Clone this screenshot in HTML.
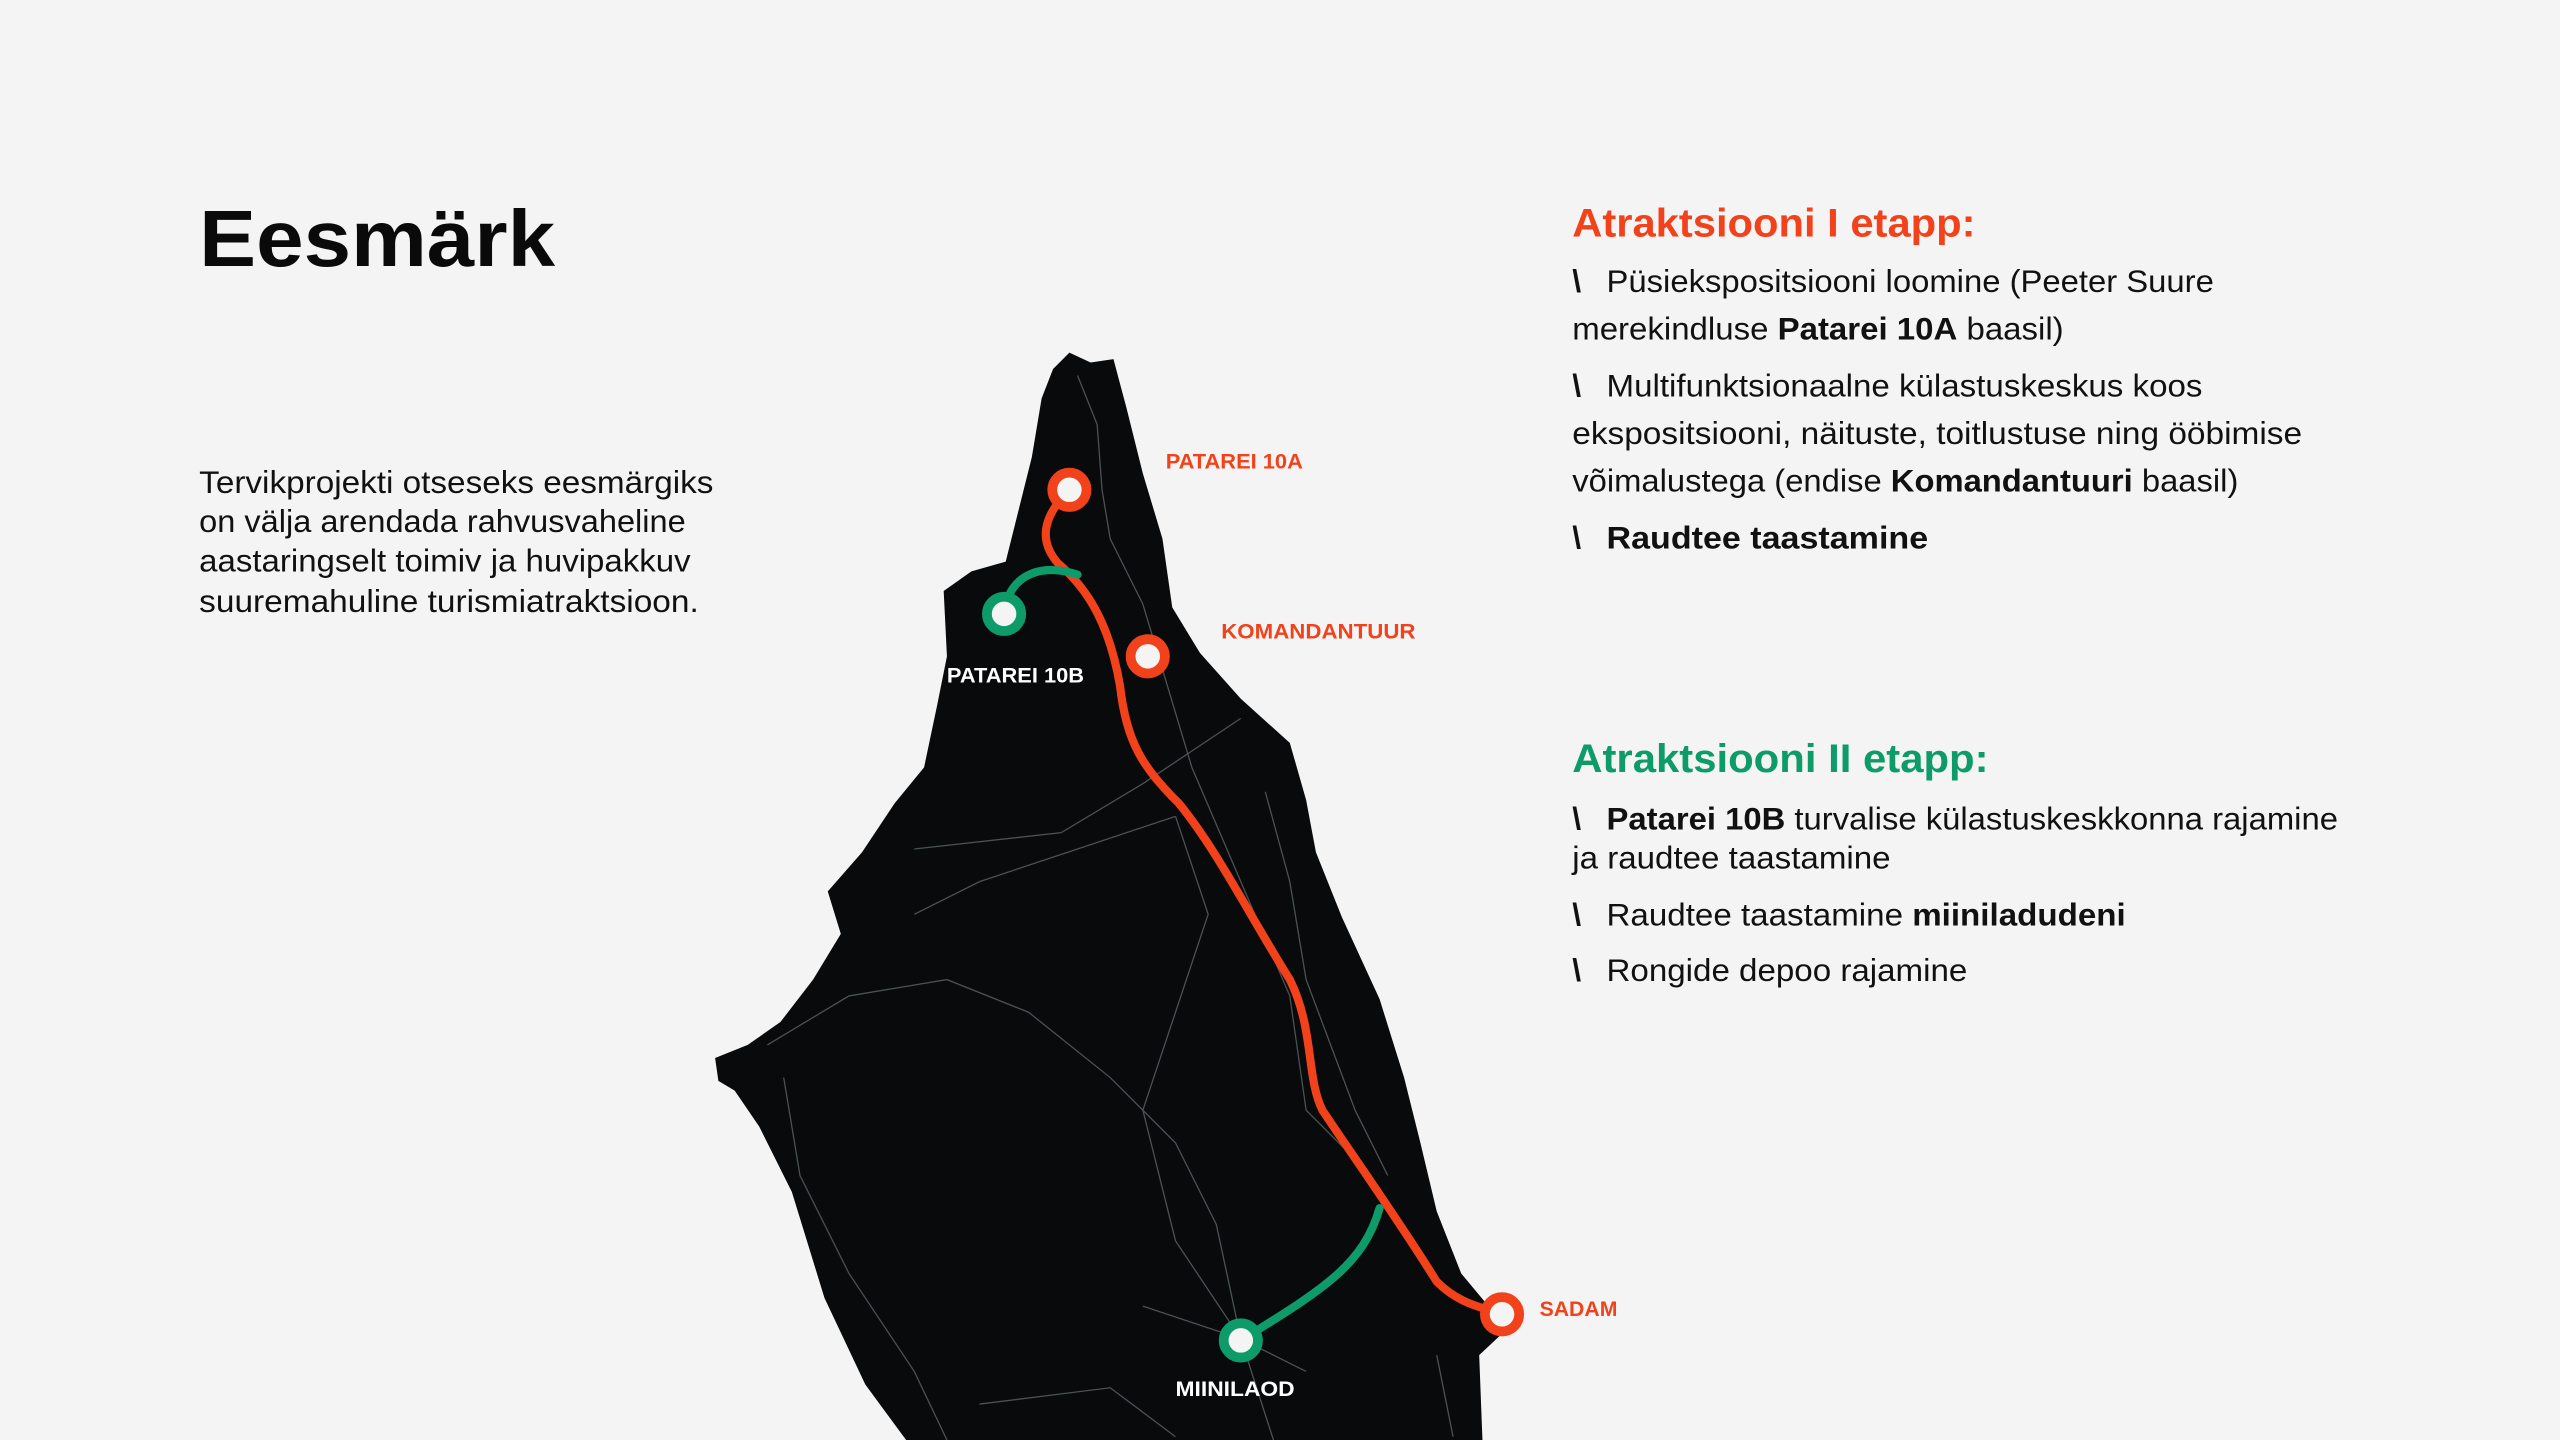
<!DOCTYPE html>
<html><head><meta charset="utf-8"><style>
html,body{margin:0;padding:0;background:#f4f4f4;}
svg{display:block}
text{font-family:"Liberation Sans",sans-serif;}
</style></head><body>
<svg width="2560" height="1440" viewBox="0 0 1568 882" xmlns="http://www.w3.org/2000/svg">
<rect width="1568" height="882" fill="#f4f4f4"/>
<text x="122" y="163" font-size="49" font-weight="bold" fill="#0a0a0a" textLength="218" lengthAdjust="spacingAndGlyphs">Eesmärk</text>
<g font-size="19.5" fill="#111">
<text x="122" y="302" textLength="315" lengthAdjust="spacingAndGlyphs">Tervikprojekti otseseks eesmärgiks</text>
<text x="122" y="326" textLength="298" lengthAdjust="spacingAndGlyphs">on välja arendada rahvusvaheline</text>
<text x="122" y="350" textLength="301" lengthAdjust="spacingAndGlyphs">aastaringselt toimiv ja huvipakkuv</text>
<text x="122" y="375" textLength="306" lengthAdjust="spacingAndGlyphs">suuremahuline turismiatraktsioon.</text>
</g>
<!-- map -->
<path d="M655,216 L668,222 L682,220 L690,250 L700,290 L712,330 L718,372 L735,400 L760,428 L790,455 L800,490 L806,522 L822,562 L845,612 L860,660 L870,700 L880,742 L895,780 L910,798 L922,815 L906,830 L908,882 L555,882 L530,848 L505,795 L485,730 L465,690 L450,668 L440,662 L438,648 L458,640 L478,626 L498,600 L515,572 L507,546 L528,522 L548,492 L566,470 L574,432 L580,402 L578,362 L595,350 L616,344 L624,312 L632,280 L638,244 L645,226 Z" fill="#080a0b"/>
<g fill="none" stroke="#4a5254" stroke-width="0.8">
<path d="M660,230 L672,260 L675,300 L680,330 L700,370 L715,420 L730,470 L760,540 L790,610 L800,680 L840,720"/>
<path d="M560,520 L650,510 L700,480 L760,440"/>
<path d="M470,640 L520,610 L580,600 L630,620 L680,660 L720,700 L745,750 L760,820"/>
<path d="M560,560 L600,540 L660,520 L720,500"/>
<path d="M480,660 L490,720 L520,780 L560,840 L580,882"/>
<path d="M720,500 L740,560 L720,620 L700,680 L720,760 L760,820 L780,882"/>
<path d="M775,485 L790,540 L800,600 L830,680 L850,720"/>
<path d="M700,800 L760,820 L800,840"/>
<path d="M600,860 L680,850 L720,880"/>
<path d="M880,830 L890,880"/>
</g>
<!-- routes -->
<path d="M655,300 C640,315 635,330 648,345 C668,362 680,385 686,420 C690,455 700,470 722,492 C745,520 765,560 790,600 C805,630 800,660 810,680 C830,710 855,745 880,785 C893,798 905,800 920,805" fill="none" stroke="#f2421b" stroke-width="5" stroke-linecap="round"/>
<path d="M615,376 C618,350 640,345 660,352" fill="none" stroke="#0e9b6a" stroke-width="5" stroke-linecap="round"/>
<path d="M845,740 C835,775 810,790 760,821" fill="none" stroke="#0e9b6a" stroke-width="5" stroke-linecap="round"/>
<g stroke-width="6" fill="#f4f4f4">
<circle cx="655" cy="300" r="10.5" stroke="#f2421b"/>
<circle cx="703" cy="402" r="10.5" stroke="#f2421b"/>
<circle cx="920" cy="805" r="10.5" stroke="#f2421b"/>
<circle cx="615" cy="376" r="10.5" stroke="#0e9b6a"/>
<circle cx="760" cy="821" r="10.5" stroke="#0e9b6a"/>
</g>
<g font-size="13" font-weight="bold">
<text x="714" y="287" fill="#f2421b" textLength="84" lengthAdjust="spacingAndGlyphs">PATAREI 10A</text>
<text x="748" y="391" fill="#f2421b" textLength="119" lengthAdjust="spacingAndGlyphs">KOMANDANTUUR</text>
<text x="580" y="418" fill="#fff" textLength="84" lengthAdjust="spacingAndGlyphs">PATAREI 10B</text>
<text x="943" y="806" fill="#f2421b">SADAM</text>
<text x="720" y="855" fill="#fff" textLength="73" lengthAdjust="spacingAndGlyphs">MIINILAOD</text>
</g>
<!-- right column -->
<text x="963" y="145" font-size="24.5" font-weight="bold" fill="#f2421b" textLength="247" lengthAdjust="spacingAndGlyphs">Atraktsiooni I etapp:</text>
<g font-size="19.5" fill="#111">
<g font-weight="bold">
<text x="963" y="179">\</text><text x="963" y="243">\</text><text x="963" y="336">\</text>
<text x="963" y="508">\</text><text x="963" y="567">\</text><text x="963" y="601">\</text>
</g>
<text x="984" y="179" textLength="372" lengthAdjust="spacingAndGlyphs">Püsiekspositsiooni loomine (Peeter Suure</text>
<text x="963" y="208" textLength="301" lengthAdjust="spacingAndGlyphs">merekindluse <tspan font-weight="bold">Patarei 10A</tspan> baasil)</text>
<text x="984" y="243" textLength="365" lengthAdjust="spacingAndGlyphs">Multifunktsionaalne külastuskeskus koos</text>
<text x="963" y="272" textLength="447" lengthAdjust="spacingAndGlyphs">ekspositsiooni, näituste, toitlustuse ning ööbimise</text>
<text x="963" y="301" textLength="408" lengthAdjust="spacingAndGlyphs">võimalustega (endise <tspan font-weight="bold">Komandantuuri</tspan> baasil)</text>
<text x="984" y="336" font-weight="bold" textLength="197" lengthAdjust="spacingAndGlyphs">Raudtee taastamine</text>
</g>
<text x="963" y="473" font-size="24.5" font-weight="bold" fill="#0e9b6a" textLength="255" lengthAdjust="spacingAndGlyphs">Atraktsiooni II etapp:</text>
<g font-size="19.5" fill="#111">
<text x="984" y="508" textLength="448" lengthAdjust="spacingAndGlyphs"><tspan font-weight="bold">Patarei 10B</tspan> turvalise külastuskeskkonna rajamine</text>
<text x="963" y="532" textLength="195" lengthAdjust="spacingAndGlyphs">ja raudtee taastamine</text>
<text x="984" y="567" textLength="318" lengthAdjust="spacingAndGlyphs">Raudtee taastamine <tspan font-weight="bold">miiniladudeni</tspan></text>
<text x="984" y="601" textLength="221" lengthAdjust="spacingAndGlyphs">Rongide depoo rajamine</text>
</g>
</svg>
</body></html>
